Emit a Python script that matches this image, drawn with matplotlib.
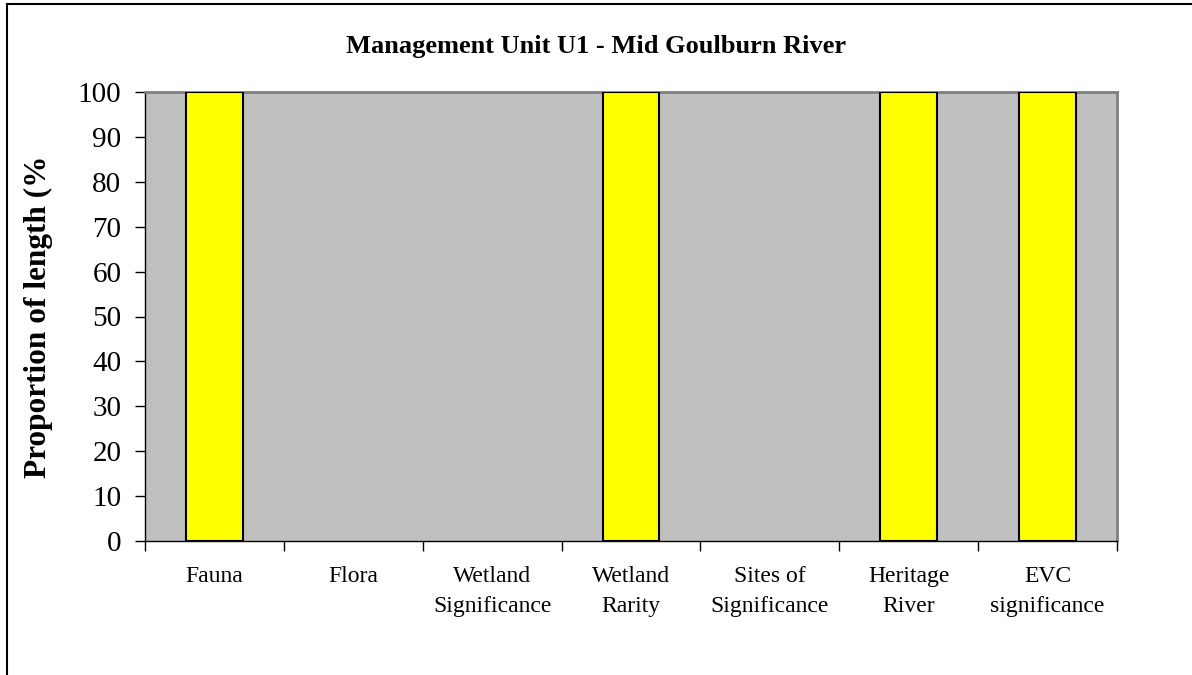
import matplotlib
matplotlib.use("Agg")
import matplotlib.pyplot as plt
from matplotlib.patches import Rectangle
import numpy as np

categories = ["Fauna", "Flora", "Wetland\nSignificance", "Wetland\nRarity",
              "Sites of\nSignificance", "Heritage\nRiver", "EVC\nsignificance"]
values = [100, 0, 0, 100, 0, 100, 100]
yticks = list(range(0, 101, 10))
title = "Management Unit U1 - Mid Goulburn River"
ylabel = "Proportion of length (%)"

W, H = 1192, 675
fig = plt.figure(figsize=(W / 100, H / 100), dpi=100)
plt.rcParams['font.family'] = ['Liberation Serif', 'DejaVu Serif']

ax = fig.add_axes([145 / W, 1 - 541 / H, 972 / W, 449 / H])
ax.set_facecolor('#C0C0C0')

x = np.arange(len(categories))
edges = ['black' if v > 0 else 'none' for v in values]
ax.bar(x, values, width=0.41, color='#FFFF00', edgecolor=edges, linewidth=1.5, zorder=3)

ax.set_xlim(-0.5, len(categories) - 0.5)
ax.set_ylim(0, 100)
ax.set_yticks(yticks)
ax.set_yticklabels([str(v) for v in yticks], fontsize=21)
ax.tick_params(axis='y', direction='out', length=7, width=1, pad=10, colors='black')

# category boundary ticks
ax.set_xticks(np.arange(len(categories) + 1) - 0.5)
ax.set_xticklabels([])
ax.tick_params(axis='x', direction='out', length=7, width=1)
ax.set_xticks(x, minor=True)
ax.set_xticklabels(categories, minor=True, fontsize=17, linespacing=1.55)
ax.tick_params(axis='x', which='minor', length=0, pad=18)

for s in ['left', 'bottom']:
    ax.spines[s].set_color('black')
    ax.spines[s].set_linewidth(1)
for s in ['top', 'right']:
    ax.spines[s].set_color('#808080')
    ax.spines[s].set_linewidth(2)

fig.text(596 / W, 1 - 46 / H, title, ha='center', va='center',
         fontsize=19, fontweight='bold')

yl = fig.text(38 / W, 1 - 312 / H, ylabel, ha='center', va='center',
              rotation=90, fontsize=22.5, fontweight='bold')
clip = Rectangle((0, 0), 1, 1 - 159 / H, transform=fig.transFigure, visible=False)
fig.add_artist(clip)
yl.set_clip_path(clip)

border = Rectangle((7 / W, -0.1), 1.2, 1.1 - 4 / H, transform=fig.transFigure,
                   fill=False, edgecolor='black', linewidth=1.5)
fig.add_artist(border)

fig.savefig("out.png", dpi=100)
